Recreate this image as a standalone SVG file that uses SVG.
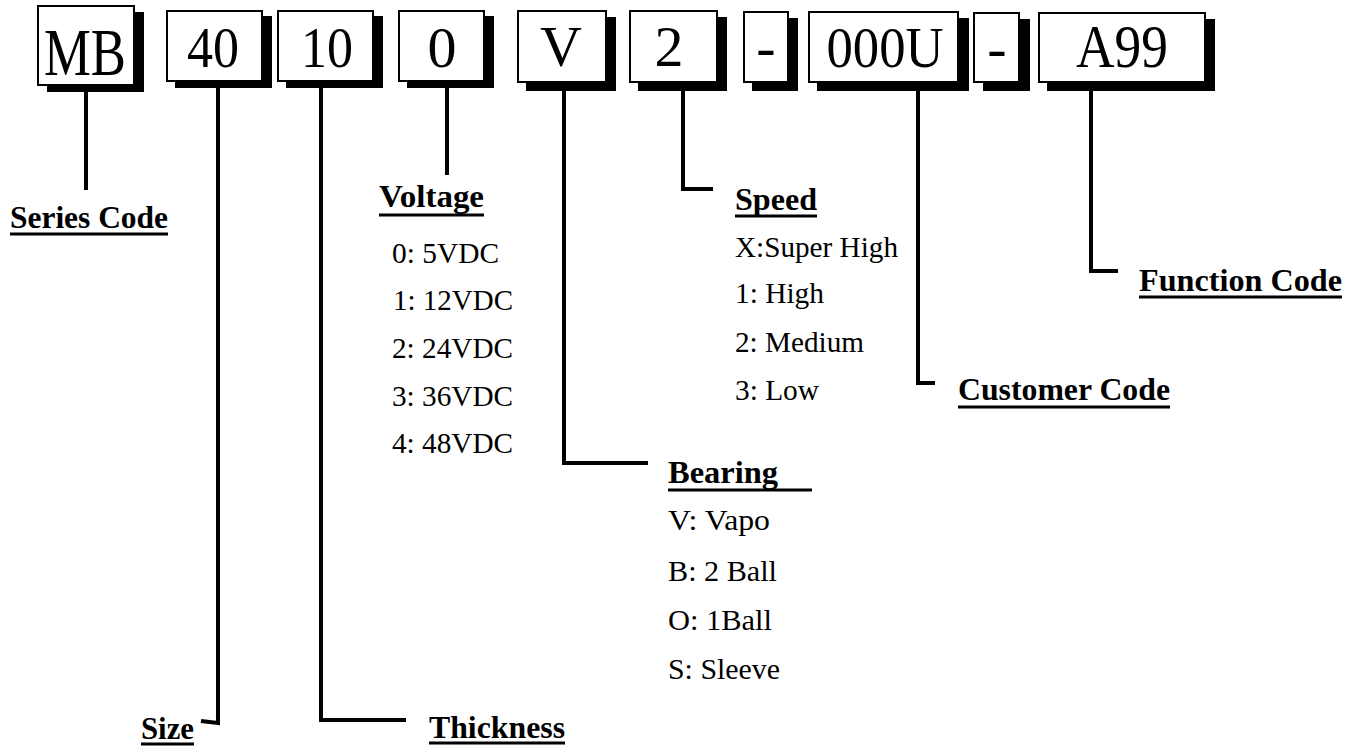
<svg xmlns="http://www.w3.org/2000/svg" width="1360" height="746" viewBox="0 0 1360 746">
<style>
.shadow{fill:#000}
.box{fill:#fff;stroke:#000;stroke-width:2}
.code{font-family:"Liberation Serif","Times New Roman",serif;font-size:58px;fill:#000;text-anchor:middle}
.lbl{font-family:"Liberation Serif","Times New Roman",serif;font-size:32px;font-weight:bold;fill:#000}
.item{font-family:"Liberation Serif","Times New Roman",serif;font-size:30px;fill:#000}
.ul{stroke:#000;stroke-width:3}
.conn{fill:none;stroke:#000;stroke-width:4;stroke-linejoin:miter;stroke-linecap:butt}
</style>
<rect width="1360" height="746" fill="#fff"/>

<g id="box-mb"><rect class="shadow" x="47" y="12" width="97" height="80"/><rect class="box" x="38" y="6" width="96" height="79"/><text class="code" x="85" y="75" style="font-size:67px" textLength="82" lengthAdjust="spacingAndGlyphs">MB</text></g>
<g id="box-40"><rect class="shadow" x="175" y="16" width="97" height="72"/><rect class="box" x="167" y="11" width="95" height="70"/><text class="code" x="213" y="67" textLength="52" lengthAdjust="spacingAndGlyphs">40</text></g>
<g id="box-10"><rect class="shadow" x="286" y="16" width="97" height="72"/><rect class="box" x="278" y="11" width="95" height="70"/><text class="code" x="327" y="67" textLength="52" lengthAdjust="spacingAndGlyphs">10</text></g>
<g id="box-0"><rect class="shadow" x="407" y="16" width="87" height="72"/><rect class="box" x="399" y="11" width="85" height="70"/><text class="code" x="442" y="67">0</text></g>
<g id="box-v"><rect class="shadow" x="526" y="17" width="90" height="74"/><rect class="box" x="518" y="11" width="88" height="71"/><text class="code" x="561" y="66">V</text></g>
<g id="box-2"><rect class="shadow" x="638" y="17" width="89" height="74"/><rect class="box" x="630" y="11" width="87" height="71"/><text class="code" x="669" y="66">2</text></g>
<g id="box-dash1"><rect class="shadow" x="752" y="18" width="46" height="73"/><rect class="box" x="744" y="12" width="44" height="70"/><text class="code" x="766" y="66">-</text></g>
<g id="box-000u"><rect class="shadow" x="817" y="18" width="152" height="73"/><rect class="box" x="809" y="12" width="149" height="70"/><text class="code" x="885" y="67" textLength="117" lengthAdjust="spacingAndGlyphs">000U</text></g>
<g id="box-dash2"><rect class="shadow" x="983" y="19" width="47" height="72"/><rect class="box" x="974" y="13" width="45" height="69"/><text class="code" x="997" y="67">-</text></g>
<g id="box-a99"><rect class="shadow" x="1047" y="19" width="168" height="72"/><rect class="box" x="1039" y="13" width="166" height="69"/><text class="code" x="1122" y="67" style="font-size:62px" textLength="92" lengthAdjust="spacingAndGlyphs">A99</text></g>

<g id="connectors" class="conn">
<path d="M86 92 V190"/>
<path d="M218 88 V723 L201 721"/>
<path d="M321 88 V720 H406"/>
<path d="M447 88 V175"/>
<path d="M564 91 V463 H648"/>
<path d="M683 91 V189 H713"/>
<path d="M918 91 V383 H935"/>
<path d="M1091 91 V271 H1118"/>
</g>

<g id="series-code"><text class="lbl" x="10" y="228" textLength="158" lengthAdjust="spacingAndGlyphs">Series Code</text><line class="ul" x1="10" y1="234" x2="168" y2="234"/></g>

<g id="voltage"><text class="lbl" x="379" y="207" textLength="105" lengthAdjust="spacingAndGlyphs">Voltage</text><line class="ul" x1="379" y1="215" x2="484" y2="215"/>
<text class="item" x="392" y="263" textLength="107" lengthAdjust="spacingAndGlyphs">0: 5VDC</text>
<text class="item" x="393" y="310" textLength="120" lengthAdjust="spacingAndGlyphs">1: 12VDC</text>
<text class="item" x="392" y="358" textLength="121" lengthAdjust="spacingAndGlyphs">2: 24VDC</text>
<text class="item" x="392" y="406" textLength="121" lengthAdjust="spacingAndGlyphs">3: 36VDC</text>
<text class="item" x="392" y="453" textLength="121" lengthAdjust="spacingAndGlyphs">4: 48VDC</text></g>

<g id="speed"><text class="lbl" x="735" y="210" textLength="82" lengthAdjust="spacingAndGlyphs">Speed</text><line class="ul" x1="735" y1="216" x2="817" y2="216"/>
<text class="item" x="735" y="257" textLength="163" lengthAdjust="spacingAndGlyphs">X:Super High</text>
<text class="item" x="735" y="303" textLength="89" lengthAdjust="spacingAndGlyphs">1: High</text>
<text class="item" x="735" y="352" textLength="129" lengthAdjust="spacingAndGlyphs">2: Medium</text>
<text class="item" x="735" y="400" textLength="84" lengthAdjust="spacingAndGlyphs">3: Low</text></g>

<g id="bearing"><text class="lbl" x="668" y="483" textLength="110" lengthAdjust="spacingAndGlyphs">Bearing</text><line class="ul" x1="668" y1="490" x2="812" y2="490"/>
<text class="item" x="668" y="530" textLength="102" lengthAdjust="spacingAndGlyphs">V: Vapo</text>
<text class="item" x="668" y="581" textLength="109" lengthAdjust="spacingAndGlyphs">B: 2 Ball</text>
<text class="item" x="668" y="630" textLength="104" lengthAdjust="spacingAndGlyphs">O: 1Ball</text>
<text class="item" x="668" y="679" textLength="112" lengthAdjust="spacingAndGlyphs">S: Sleeve</text></g>

<g id="customer-code"><text class="lbl" x="958" y="400" textLength="212" lengthAdjust="spacingAndGlyphs">Customer Code</text><line class="ul" x1="958" y1="407" x2="1170" y2="407"/></g>
<g id="function-code"><text class="lbl" x="1139" y="291" textLength="203" lengthAdjust="spacingAndGlyphs">Function Code</text><line class="ul" x1="1139" y1="297" x2="1342" y2="297"/></g>
<g id="size"><text class="lbl" x="141" y="739" textLength="53" lengthAdjust="spacingAndGlyphs">Size</text><line class="ul" x1="141" y1="744" x2="194" y2="744"/></g>
<g id="thickness"><text class="lbl" x="429" y="738" textLength="136" lengthAdjust="spacingAndGlyphs">Thickness</text><line class="ul" x1="429" y1="743" x2="565" y2="743"/></g>
</svg>
